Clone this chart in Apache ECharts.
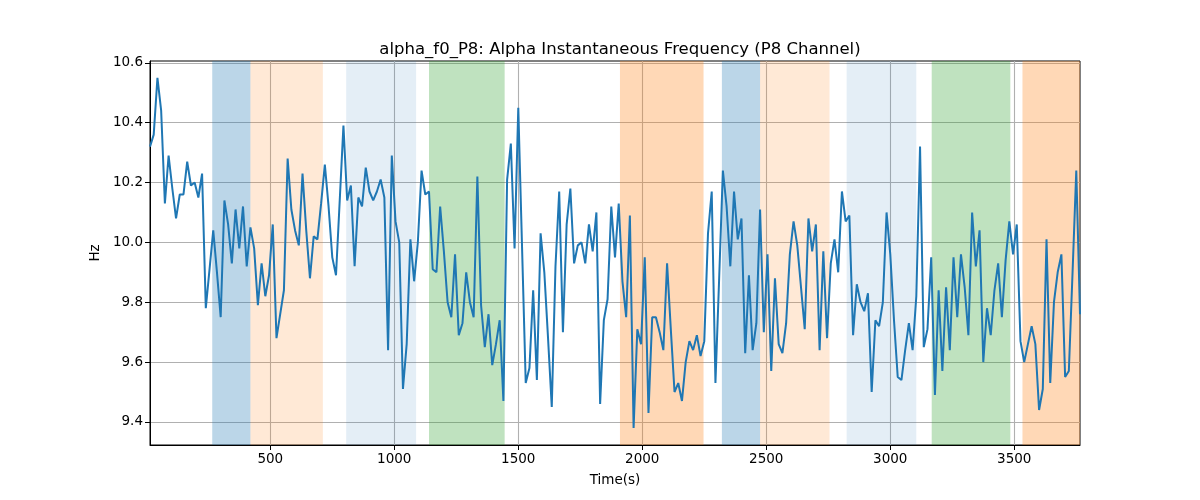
<!DOCTYPE html>
<html>
<head>
<meta charset="utf-8">
<script src="https://cdn.jsdelivr.net/npm/echarts@6/dist/echarts.min.js"></script>
<style>html,body{margin:0;padding:0;background:#fff}#c{width:1200px;height:500px}</style>
</head>
<body>
<div id="c"></div>
<script>
const t0 = 15;
const step = 15;
const freq = [
10.32,10.36,10.55,10.44,10.13,10.29,10.18,10.08,10.16,10.16,
10.27,10.19,10.20,10.15,10.23,9.78,9.91,10.04,9.90,9.75,
10.14,10.06,9.93,10.11,9.98,10.12,9.92,10.05,9.98,9.79,
9.93,9.82,9.89,10.06,9.68,9.76,9.84,10.28,10.11,10.04,
9.99,10.23,10.04,9.88,10.02,10.01,10.13,10.26,10.12,9.95,
9.89,10.14,10.39,10.14,10.19,9.92,10.15,10.12,10.25,10.17,
10.14,10.17,10.21,10.15,9.64,10.29,10.07,10.00,9.51,9.66,
10.01,9.87,10.00,10.24,10.16,10.17,9.91,9.90,10.12,9.97,
9.80,9.75,9.96,9.69,9.73,9.90,9.80,9.75,10.22,9.79,
9.65,9.76,9.59,9.66,9.74,9.47,10.21,10.33,9.98,10.45,
9.99,9.53,9.58,9.84,9.54,10.03,9.90,9.68,9.45,9.92,
10.17,9.70,10.06,10.18,9.93,9.99,10.00,9.93,10.06,9.97,
10.10,9.46,9.74,9.81,10.12,9.95,10.13,9.87,9.75,10.09,
9.38,9.71,9.66,9.95,9.43,9.75,9.75,9.70,9.64,9.93,
9.71,9.50,9.53,9.47,9.60,9.67,9.64,9.69,9.62,9.67,
10.03,10.17,9.53,9.88,10.24,10.12,9.92,10.17,10.01,10.08,
9.63,9.89,9.64,9.73,10.11,9.70,9.96,9.57,9.88,9.66,
9.63,9.73,9.96,10.07,9.99,9.85,9.71,10.08,9.97,10.06,
9.64,9.97,9.68,9.93,10.01,9.90,10.17,10.07,10.09,9.69,
9.86,9.80,9.77,9.83,9.50,9.74,9.72,9.80,10.10,9.96,
9.74,9.55,9.54,9.64,9.73,9.64,9.82,10.32,9.65,9.71,
9.95,9.49,9.84,9.57,9.85,9.64,9.95,9.75,9.96,9.85,
9.69,10.10,9.92,10.04,9.60,9.78,9.69,9.84,9.93,9.75,
9.94,10.07,9.96,10.06,9.67,9.60,9.66,9.72,9.66,9.44,
9.51,10.01,9.53,9.80,9.90,9.96,9.55,9.57,9.90,10.24,
9.76
];
const times = freq.map((_, i) => t0 + step * i);
const xTicks = [500, 1000, 1500, 2000, 2500, 3000, 3500];
const yTicks = [9.4, 9.6, 9.8, 10.0, 10.2, 10.4, 10.6];
const bandStart = [266, 420, 806, 1140, 1910, 2321, 2475, 2824, 3167, 3533];
const bandEnd   = [420, 712, 1088, 1445, 2247, 2475, 2755, 3105, 3484, 3765];
const bandKind  = ['b', 'o', 'lb', 'g', 'do', 'b', 'o', 'lb', 'g', 'do'];
const kindColor = {
  b: 'rgba(31,119,180,0.3)',
  o: 'rgba(255,127,14,0.17)',
  lb: 'rgba(31,119,180,0.12)',
  g: 'rgba(44,160,44,0.3)',
  do: 'rgba(255,127,14,0.3)'
};
const xMin = times[0], xMax = times[times.length - 1];
const yMin = 9.323, yMax = 10.606;

const chart = echarts.init(document.getElementById('c'), null, {renderer: 'canvas'});
const font = 'DejaVu Sans';
chart.setOption({
  animation: false,
  title: {
    text: 'alpha_f0_P8: Alpha Instantaneous Frequency (P8 Channel)',
    left: 615, top: 36, textAlign: 'center',
    textStyle: {fontFamily: font, fontSize: 16.5, fontWeight: 'normal', color: '#000'}
  },
  grid: {left: 150, right: 120, top: 61, bottom: 55, show: true, borderColor: '#000', borderWidth: 1, backgroundColor: 'transparent'},
  xAxis: {
    type: 'value', min: xMin, max: xMax, splitNumber: 7,
    name: 'Time(s)', nameLocation: 'middle', nameGap: 28,
    nameTextStyle: {fontFamily: font, fontSize: 13.5, color: '#000'},
    axisLine: {show: true, lineStyle: {color: '#000', width: 1}},
    axisTick: {show: true, length: 5, lineStyle: {color: '#000'}, customValues: xTicks},
    axisLabel: {fontFamily: font, fontSize: 13.5, color: '#000', margin: 7, customValues: xTicks,
      formatter: v => String(v)},
    splitLine: {show: true, lineStyle: {color: '#b0b0b0', width: 1.1}}
  },
  yAxis: {
    type: 'value', min: yMin, max: yMax, splitNumber: 6,
    name: 'Hz', nameLocation: 'middle', nameGap: 48, nameRotate: 90,
    nameTextStyle: {fontFamily: font, fontSize: 13.5, color: '#000'},
    axisLine: {show: true, lineStyle: {color: '#000', width: 1}},
    axisTick: {show: true, length: 5, lineStyle: {color: '#000'}, customValues: yTicks},
    axisLabel: {fontFamily: font, fontSize: 13.5, color: '#000', margin: 7, customValues: yTicks,
      formatter: v => v.toFixed(1)},
    splitLine: {show: true, lineStyle: {color: '#b0b0b0', width: 1.1}}
  },
  series: [
    {
      type: 'line', data: [], z: 1, silent: true,
      markArea: {
        silent: true,
        data: bandStart.map((s, i) => [
          {xAxis: s, itemStyle: {color: kindColor[bandKind[i]]}},
          {xAxis: bandEnd[i]}
        ])
      }
    },
    {
      type: 'line', z: 3, showSymbol: false, symbol: 'none',
      data: times.map((t, i) => [t, freq[i]]),
      lineStyle: {color: '#1f77b4', width: 2},
      itemStyle: {color: '#1f77b4'}
    }
  ]
});
</script>
</body>
</html>
